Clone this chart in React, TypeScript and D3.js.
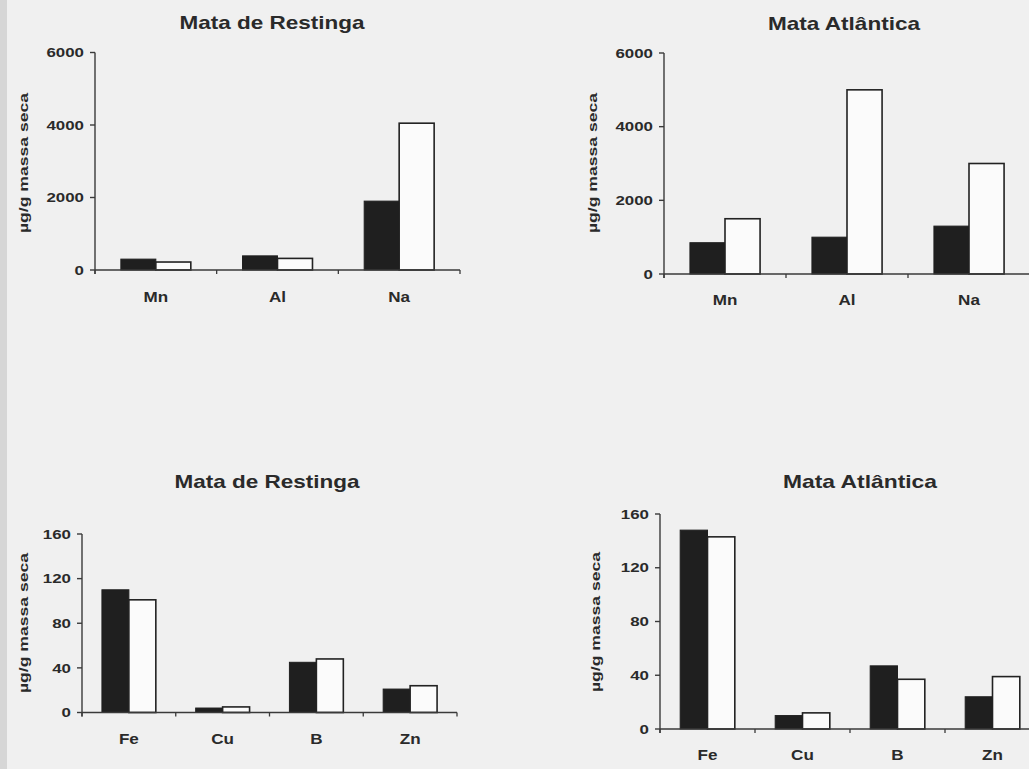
import React from "react";
import * as d3 from "d3";

// ---------- data ----------
const topCategories = ["Mn", "Al", "Na"];
const bottomCategories = ["Fe", "Cu", "B", "Zn"];

const restingaTopBlack = [300, 390, 1900];
const restingaTopWhite = [220, 320, 4050];
const atlanticaTopBlack = [850, 1000, 1300];
const atlanticaTopWhite = [1500, 5000, 3000];

const restingaBottomBlack = [110, 4, 45, 21];
const restingaBottomWhite = [101, 5, 48, 24];
const atlanticaBottomBlack = [148, 10, 47, 24];
const atlanticaBottomWhite = [143, 12, 37, 39];

const topTicks = [0, 2000, 4000, 6000];
const bottomTicks = [0, 40, 80, 120, 160];

const titleRestinga = "Mata de Restinga";
const titleAtlantica = "Mata Atlântica";
const yAxisLabel = "µg/g massa seca";
const seriesKeys = ["black", "white"];

// ---------- styling ----------
const W = 1029;
const H = 769;
const FONT = "'Liberation Sans', Arial, Helvetica, sans-serif";
const TEXT = "#2a2a2a";
const AXIS = "#3a3a3a";
const BG = "#f0f0f0";

type PanelProps = {
  title: string;
  categories: string[];
  black: number[];
  white: number[];
  ticks: number[];
  xRange: [number, number];
  yRange: [number, number];
  titleX: number;
  titleY: number;
  titleLen: number;
  ylabX: number;
  ylabY: number;
  catY: number;
};

function StretchText(props: {
  x: number;
  y: number;
  sx: number;
  size: number;
  anchor: "start" | "middle" | "end";
  children: React.ReactNode;
  baseline?: string;
}) {
  const { x, y, sx, size, anchor, children, baseline } = props;
  return (
    <text
      transform={`translate(${x},${y}) scale(${sx},1)`}
      textAnchor={anchor}
      dominantBaseline={baseline || "auto"}
      fontFamily={FONT}
      fontWeight="bold"
      fontSize={size}
      fill={TEXT}
    >
      {children}
    </text>
  );
}

function Panel(p: PanelProps) {
  const domainMax = p.ticks[p.ticks.length - 1];
  const y = d3.scaleLinear().domain([0, domainMax]).range(p.yRange);
  const x = d3
    .scaleBand<string>()
    .domain(p.categories)
    .range(p.xRange)
    .paddingInner(0.425)
    .paddingOuter(0.2125);
  const inner = d3
    .scaleBand<string>()
    .domain(seriesKeys)
    .range([0, x.bandwidth()])
    .padding(0);
  const step = x.step();
  const x0 = p.xRange[0];
  const boundaries = d3.range(p.categories.length + 1).map((i) => x0 + i * step);
  const axisLeft = x0;
  const base = y(0);

  const rows = p.categories.map((c, i) => ({
    c,
    black: p.black[i],
    white: p.white[i],
  }));

  return (
    <g>
      {/* title */}
      <text
        x={p.titleX}
        y={p.titleY}
        textAnchor="middle"
        fontFamily={FONT}
        fontWeight="bold"
        fontSize={18.5}
        fill={TEXT}
        textLength={p.titleLen}
        lengthAdjust="spacingAndGlyphs"
      >
        {p.title}
      </text>
      {/* y label */}
      <text
        transform={`translate(${p.ylabX},${p.ylabY}) rotate(-90)`}
        textAnchor="middle"
        dominantBaseline="central"
        fontFamily={FONT}
        fontWeight="bold"
        fontSize={13}
        fill={TEXT}
        textLength={140}
        lengthAdjust="spacingAndGlyphs"
      >
        {yAxisLabel}
      </text>
      {/* bars */}
      {rows.map((r) => (
        <g key={r.c} transform={`translate(${x(r.c)},0)`}>
          <rect
            x={inner("black")}
            y={y(r.black)}
            width={inner.bandwidth()}
            height={base - y(r.black)}
            fill="#1f1f1f"
            stroke="#1f1f1f"
            strokeWidth={1}
          />
          <rect
            x={inner("white")}
            y={y(r.white)}
            width={inner.bandwidth()}
            height={base - y(r.white)}
            fill="#fbfbfb"
            stroke="#222"
            strokeWidth={1.6}
          />
        </g>
      ))}
      {/* y axis */}
      <line
        x1={axisLeft}
        x2={axisLeft}
        y1={y(domainMax)}
        y2={base + 4}
        stroke={AXIS}
        strokeWidth={1.4}
      />
      {p.ticks.map((t) => (
        <g key={t}>
          <line
            x1={axisLeft - 5}
            x2={axisLeft}
            y1={y(t)}
            y2={y(t)}
            stroke={AXIS}
            strokeWidth={1.4}
          />
          <StretchText
            x={axisLeft - 11}
            y={y(t)}
            sx={1.3}
            size={13}
            anchor="end"
            baseline="central"
          >
            {t}
          </StretchText>
        </g>
      ))}
      {/* x axis */}
      <line
        x1={axisLeft}
        x2={p.xRange[1]}
        y1={base}
        y2={base}
        stroke={AXIS}
        strokeWidth={1.6}
      />
      {boundaries.map((b, i) => (
        <line
          key={i}
          x1={b}
          x2={b}
          y1={base}
          y2={base + 4}
          stroke={AXIS}
          strokeWidth={1.3}
        />
      ))}
      {p.categories.map((c) => (
        <StretchText
          key={c}
          x={(x(c) as number) + x.bandwidth() / 2}
          y={p.catY}
          sx={1.22}
          size={14}
          anchor="middle"
        >
          {c}
        </StretchText>
      ))}
    </g>
  );
}

export default function App() {
  return (
    <svg
      width={W}
      height={H}
      viewBox={`0 0 ${W} ${H}`}
      style={{ position: "absolute", left: 0, top: 0, display: "block" }}
    >
      <rect x={0} y={0} width={W} height={H} fill={BG} />
      <rect x={0} y={0} width={7} height={H} fill="#d6d6d6" />
      <Panel
        title={titleRestinga}
        categories={topCategories}
        black={restingaTopBlack}
        white={restingaTopWhite}
        ticks={topTicks}
        xRange={[95, 460]}
        yRange={[270, 52.5]}
        titleX={272}
        titleY={29}
        titleLen={185}
        ylabX={23}
        ylabY={163}
        catY={302}
      />
      <Panel
        title={titleAtlantica}
        categories={topCategories}
        black={atlanticaTopBlack}
        white={atlanticaTopWhite}
        ticks={topTicks}
        xRange={[664, 1030]}
        yRange={[274, 53]}
        titleX={844}
        titleY={30}
        titleLen={152}
        ylabX={592}
        ylabY={163}
        catY={305}
      />
      <Panel
        title={titleRestinga}
        categories={bottomCategories}
        black={restingaBottomBlack}
        white={restingaBottomWhite}
        ticks={bottomTicks}
        xRange={[82, 457]}
        yRange={[712.5, 534]}
        titleX={267}
        titleY={488}
        titleLen={185}
        ylabX={23}
        ylabY={623}
        catY={744}
      />
      <Panel
        title={titleAtlantica}
        categories={bottomCategories}
        black={atlanticaBottomBlack}
        white={atlanticaBottomWhite}
        ticks={bottomTicks}
        xRange={[660, 1040]}
        yRange={[729, 514]}
        titleX={860}
        titleY={488}
        titleLen={154}
        ylabX={595}
        ylabY={622}
        catY={760}
      />
    </svg>
  );
}
